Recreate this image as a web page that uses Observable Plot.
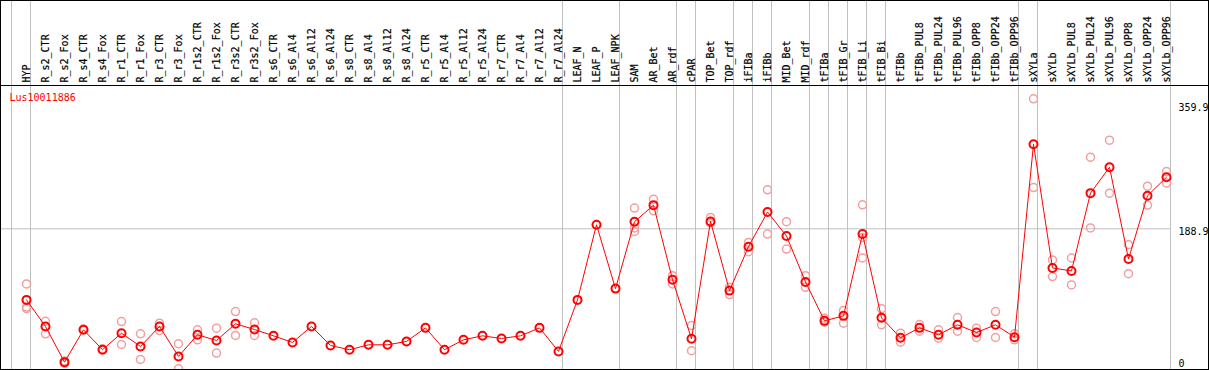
<!DOCTYPE html>
<html>
<head>
<meta charset="utf-8">
<script src="https://cdn.jsdelivr.net/npm/d3@7"></script>
<script src="https://cdn.jsdelivr.net/npm/@observablehq/plot@0.6"></script>
<style>
  html, body { margin: 0; padding: 0; background: #fff; }
  #chart svg { display: block; }
</style>
</head>
<body>
<div id="chart"></div>
<script>
const title = "Lus10011886";

const categories = [
  "HYP","R_s2_CTR","R_s2_Fox","R_s4_CTR","R_s4_Fox","R_r1_CTR","R_r1_Fox","R_r3_CTR","R_r3_Fox",
  "R_r1s2_CTR","R_r1s2_Fox","R_r3s2_CTR","R_r3s2_Fox","R_s6_CTR","R_s6_Al4","R_s6_Al12","R_s6_Al24",
  "R_s8_CTR","R_s8_Al4","R_s8_Al12","R_s8_Al24","R_r5_CTR","R_r5_Al4","R_r5_Al12","R_r5_Al24",
  "R_r7_CTR","R_r7_Al4","R_r7_Al12","R_r7_Al24","LEAF_N","LEAF_P","LEAF_NPK","SAM","AR_Bet","AR_rdf",
  "cPAR","TOP_Bet","TOP_rdf","iFIBa","iFIBb","MID_Bet","MID_rdf","tFIBa","tFIB_Gr","tFIB_Li","tFIB_Bi",
  "tFIBb","tFIBb_PUL8","tFIBb_PUL24","tFIBb_PUL96","tFIBb_OPP8","tFIBb_OPP24","tFIBb_OPP96",
  "sXYLa","sXYLb","sXYLb_PUL8","sXYLb_PUL24","sXYLb_PUL96","sXYLb_OPP8","sXYLb_OPP24","sXYLb_OPP96"
];

const means = [
  95.4, 60.4, 13.5, 56, 29.8, 51.6, 34.1, 60.4, 21,
  49.5, 42, 63.9, 56.4, 48.1, 39.4, 60.4, 35.4,
  29.8, 36.3, 36.3, 40.7, 58.6, 29.8, 42.9, 48.1,
  44.6, 48.1, 58.6, 27.6, 95.4, 194.2, 110.2, 198.2, 220, 122,
  44.2, 198.6, 107.6, 165.4, 210.9, 179.4, 119, 67.8, 74.4, 182, 71.8,
  45.5, 58.6, 49.5, 62.6, 52.5, 62.6, 46.3,
  300.1, 137.4, 133.5, 235.8, 269.9, 149.2, 232.3, 256.8
];

const rep1 = [
  116.4, 67.3, 15, 57, 31, 66.9, 50.8, 64.7, 37.7,
  56, 58.2, 80, 65.2, null, null, null, null,
  null, null, null, null, null, null, null, null,
  null, null, null, null, null, null, null, 216.1, 227.9, 127.3,
  61.7, 203.8, 111.9, 171, 240.2, 198.2, 127.3, 71.3, 81.4, 220.5, 83.6,
  51.6, 63, 56, 72.2, 58.1, 80, 50.8,
  359.9, 147.9, 150.5, 283.1, 305.4, 168, 245, 264.2
];

const rep2 = [
  86, 50.8, 12, null, null, 36.7, 17, 55, 4.8,
  42.9, 25.4, 48.6, 48.6, null, null, null, null,
  null, null, null, null, null, null, null, null,
  null, null, null, null, null, null, null, 185.4, 212.6, 116.4,
  28.5, 196.5, 102.4, 158.8, 182, 162.3, 111.9, 66, 64.7, 150.5, 62.6,
  39.8, 54.2, 45, 54.2, 45.9, 45.9, 42.9,
  243.2, 126, 115.1, 190, 235.8, 129.9, 220.1, 249.3
];

const rep3 = [
  84, null, null, null, null, null, null, null, null,
  null, null, null, null, null, null, null, null,
  null, null, null, null, null, null, null, null,
  null, null, null, null, null, null, null, 190, null, null,
  null, null, null, null, null, null, null, null, null, 177.6, null,
  null, null, null, null, null, null, null,
  null, null, null, null, null, null, null, null
];

// indices of the first category of each group (separator drawn before it)
const groupStarts = [0, 1, 29, 32, 35, 36, 38, 39, 40, 42, 43, 44, 45, 46, 53, 54, 61];

const yTicks = [359.9, 188.9, 0];

const data = categories.map((c, i) => ({i, cat: c, mean: means[i]}));
const reps = [];
[rep1, rep2, rep3].forEach(arr => arr.forEach((v, i) => { if (v != null) reps.push({i, value: v}); }));

const font = "DejaVu Sans Mono";
const W = 1209, H = 370;

const chart = Plot.plot({
  width: W,
  height: H,
  margin: 0,
  style: {fontFamily: font, fontSize: "10px", background: "white", overflow: "hidden"},
  x: {type: "linear", domain: [-26 / 19, (W - 26) / 19], range: [0, W], axis: null},
  y: {type: "linear", domain: [0, 359.9], range: [371.9, 98.3], axis: null},
  marks: [
    Plot.ruleX(groupStarts, {x: d => d, dx: -15, stroke: "#c0c0c0", strokeWidth: 1}),
    Plot.ruleY([188.9], {y: d => d, x1: -2, x2: 61, dx: -15, stroke: "#c0c0c0", strokeWidth: 1}),
    Plot.text(categories, {
      x: (d, i) => i, frameAnchor: "top", dy: 82, dx: 0.3, rotate: -90,
      textAnchor: "start", lineAnchor: "middle", fill: "black", stroke: "black", strokeWidth: 0.2, fontSize: 10
    }),
    Plot.text([title], {frameAnchor: "top-left", dx: 9, dy: 97, textAnchor: "start", lineAnchor: "middle", fill: "red", fontSize: 10}),
    Plot.text([yTicks[0]], {y: d => d, frameAnchor: "right", dx: -31, dy: 5, textAnchor: "start", lineAnchor: "top", text: d => String(d), fill: "black"}),
    Plot.text([yTicks[1]], {y: d => d, frameAnchor: "right", dx: -31, dy: -1, textAnchor: "start", lineAnchor: "top", text: d => String(d), fill: "black"}),
    Plot.text([yTicks[2]], {y: d => d, frameAnchor: "right", dx: -31, dy: -5, textAnchor: "start", lineAnchor: "bottom", text: d => String(d), fill: "black"}),
    Plot.dot(reps, {x: "i", y: "value", r: 4, stroke: "#f0a0a0", strokeWidth: 1.5, fill: "none"}),
    Plot.line(data, {x: "i", y: "mean", stroke: "red", strokeWidth: 1}),
    Plot.dot(data, {x: "i", y: "mean", r: 4, stroke: "red", strokeWidth: 2, fill: "none"}),
    Plot.frame({stroke: "black", strokeWidth: 1, insetTop: 85, insetRight: 1, insetBottom: 1}),
    Plot.frame({stroke: "black", strokeWidth: 1, insetRight: 1, insetBottom: 1})
  ]
});

document.getElementById("chart").appendChild(chart);
</script>
</body>
</html>
